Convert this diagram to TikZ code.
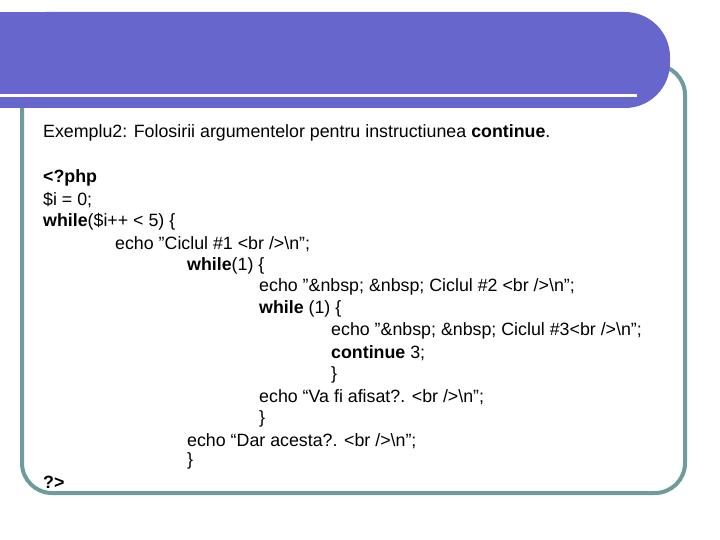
\documentclass[tikz,border=0pt]{standalone}
\usepackage{fontspec}
\setmainfont{Liberation Sans}
\begin{document}
\begin{tikzpicture}[x=1pt,y=-1pt]
 \tikzset{codeline/.style={anchor=west,inner sep=0pt,font=\fontsize{17.8}{20}\selectfont}}
 \definecolor{banner}{HTML}{6666CC}
 \definecolor{frame}{HTML}{6E9C9C}
 \newcommand\dq{\symbol{34}}
 \useasboundingbox (0,0) rectangle (720,540);
 % frame
 \draw[frame,line width=4pt,rounded corners=30pt](640,65)--(685,65)--(685,493)--(22,493)--(22,100);
 % banner
 \fill[banner,rounded corners=45pt](0,12)--(670,12)--(670,108)--(0,108)--cycle;
 \fill[banner](0,12) rectangle (60,108);
 \fill[white](0,94) rectangle (637,97);
 % text
 \node[codeline] (title) at (43,133) {Exemplu2: Folosirii argumentelor pentru instructiunea \textbf{continue}.};
 \node[codeline] (l1) at (43,178) {\textbf{<?php}};
 \node[codeline] (l2) at (43,200) {\$i = 0;};
 \node[codeline] (l3) at (43,222) {\textbf{while}(\$i++ < 5) \{};
 \node[codeline] (l4) at (115,244) {echo \dq Ciclul \#1 <br />\textbackslash n\dq;};
 \node[codeline] (l5) at (187,266) {\textbf{while}(1) \{};
 \node[codeline] (l6) at (259,287) {echo \dq\&nbsp; \&nbsp; Ciclul \#2 <br />\textbackslash n\dq;};
 \node[codeline] (l7) at (259,309) {\textbf{while} (1) \{};
 \node[codeline] (l8) at (331,331) {echo \dq\&nbsp; \&nbsp; Ciclul \#3<br />\textbackslash n\dq;};
 \node[codeline] (l9) at (331,353) {\textbf{continue} 3;};
 \node[codeline] (l10) at (331,375) {\}};
 \node[codeline] (l11) at (259,397) {echo “Va fi afisat?. <br />\textbackslash n\dq;};
 \node[codeline] (l12) at (259,419) {\}};
 \node[codeline] (l13) at (187,441) {echo “Dar acesta?. <br />\textbackslash n\dq;};
 \node[codeline] (l14) at (187,461) {\}};
 \node[codeline] (l15) at (43,482) {\textbf{?>}};
\end{tikzpicture}
\end{document}
